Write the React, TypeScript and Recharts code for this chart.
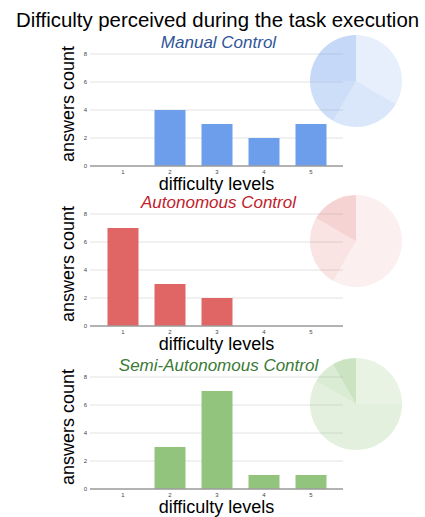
import React from 'react';
import { BarChart, Bar, XAxis, YAxis, CartesianGrid, PieChart, Pie, Cell } from 'recharts';

const levels = ['1', '2', '3', '4', '5'];
const manualCounts = [0, 4, 3, 2, 3];
const autonomousCounts = [7, 3, 2, 0, 0];
const semiCounts = [0, 3, 7, 1, 1];
const yTicks = [0, 2, 4, 6, 8];
const chartTitle = 'Difficulty perceived during the task execution';
const panelTitles = ['Manual Control', 'Autonomous Control', 'Semi-Autonomous Control'];
const xAxisTitle = 'difficulty levels';
const yAxisTitle = 'answers count';

const FONT = 'Arial, "Liberation Sans", sans-serif';

const renderYLabel = (props: any) => {
  const vb = props.viewBox || {};
  const x = (vb.x ?? 50) + 18;
  const y = (vb.y ?? 54) + (vb.height ?? 112) / 2 - 6;
  return (
    <text
      x={x}
      y={y}
      transform={`rotate(-90 ${x} ${y})`}
      textAnchor="middle"
      dominantBaseline="central"
      fontSize={18}
      fill="#000"
      fontFamily={FONT}
    >
      {yAxisTitle}
    </text>
  );
};

type PanelProps = {
  counts: number[];
  color: string;
  titleColor: string;
  title: string;
  top: number;
  sliceOpacities: number[];
};

function Panel({ counts, color, titleColor, title, top, sliceOpacities }: PanelProps) {
  const data = levels.map((l, i) => ({ level: l, count: counts[i] }));
  const pieData = data.filter((d) => d.count > 0);
  return (
    <>
      <div style={{ position: 'absolute', left: 0, top, width: 425, height: 156 }}>
        <BarChart
          width={425}
          height={156}
          data={data}
          margin={{ top: 14, right: 82, bottom: 0, left: 50 }}
        >
          <CartesianGrid vertical={false} stroke="#e2e2e2" />
          <XAxis
            dataKey="level"
            height={30}
            padding={{ left: 9.5, right: 8.5 }}
            stroke="#9e9e9e"
            strokeWidth={1.5}
            tickLine={false}
            tickSize={0}
            tickMargin={4}
            tick={{ fontSize: 6, fill: '#444', fontFamily: FONT }}
            label={{
              value: xAxisTitle,
              position: 'insideBottom',
              offset: 6,
              fontSize: 18,
              fill: '#000',
              fontFamily: FONT,
            }}
          />
          <YAxis
            width={40}
            domain={[0, 8]}
            ticks={yTicks}
            axisLine={false}
            tickLine={false}
            tickSize={0}
            tickMargin={3}
            tick={{ fontSize: 6, fill: '#444', fontFamily: FONT }}
            label={renderYLabel}
          />
          <Bar dataKey="count" fill={color} barSize={31} isAnimationActive={false} />
        </BarChart>
      </div>
      <div
        style={{
          position: 'absolute',
          left: 0,
          top: top + 3 - 10,
          width: 437,
          height: 20,
          lineHeight: '20px',
          textAlign: 'center',
          fontFamily: FONT,
          fontStyle: 'italic',
          fontSize: 17,
          color: titleColor,
          whiteSpace: 'nowrap',
        }}
      >
        {title}
      </div>
      <div style={{ position: 'absolute', left: 306, top: top + 41 - 50, width: 100, height: 100 }}>
        <PieChart width={100} height={100} margin={{ top: 0, right: 0, bottom: 0, left: 0 }}>
          <Pie
            data={pieData}
            dataKey="count"
            nameKey="level"
            cx={50}
            cy={50}
            outerRadius={46}
            startAngle={90}
            endAngle={-270}
            stroke="none"
            isAnimationActive={false}
          >
            {pieData.map((d, i) => (
              <Cell key={d.level} fill={color} fillOpacity={sliceOpacities[i]} />
            ))}
          </Pie>
        </PieChart>
      </div>
    </>
  );
}

export default function App() {
  return (
    <div style={{ position: 'absolute', left: 0, top: 0, width: 425, height: 517, background: '#fff' }}>
      <div
        style={{
          position: 'absolute',
          left: 0,
          top: 8,
          width: 435,
          height: 24,
          lineHeight: '24px',
          textAlign: 'center',
          fontFamily: FONT,
          fontSize: 20.4,
          color: '#000',
          whiteSpace: 'nowrap',
        }}
      >
        {chartTitle}
      </div>
      <Panel
        counts={manualCounts}
        color="#6d9eeb"
        titleColor="#30559a"
        title={panelTitles[0]}
        top={40}
        sliceOpacities={[0.16, 0.25, 0.34, 0.4]}
      />
      <Panel
        counts={autonomousCounts}
        color="#e06666"
        titleColor="#c0212b"
        title={panelTitles[1]}
        top={200}
        sliceOpacities={[0.1, 0.18, 0.29]}
      />
      <Panel
        counts={semiCounts}
        color="#93c47d"
        titleColor="#3a7a35"
        title={panelTitles[2]}
        top={363}
        sliceOpacities={[0.21, 0.25, 0.33, 0.48]}
      />
    </div>
  );
}
